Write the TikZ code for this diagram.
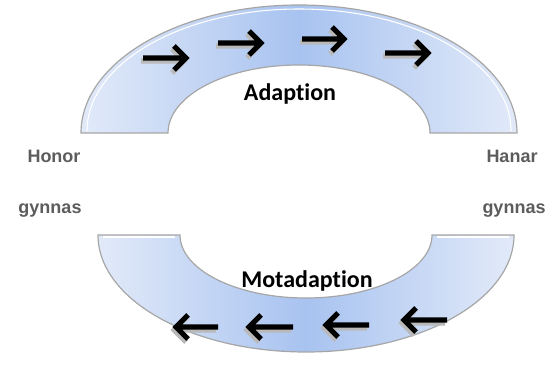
\documentclass[tikz,border=0pt]{standalone}
\usepackage{fontspec}
\setmainfont{Liberation Sans}
\newfontfamily\labelfont[Ligatures=NoCommon]{Carlito}
\usetikzlibrary{positioning}

\definecolor{ringmid}{HTML}{A8C3F0}
\definecolor{ringedge}{HTML}{E2EAF9}
\definecolor{sidegray}{HTML}{5C5C5C}

\begin{document}
\begin{tikzpicture}[x=0.75pt,y=0.75pt,
    ring/.style={draw=gray!70,line width=0.9pt,left color=ringedge,
                 right color=ringedge,middle color=ringmid},
    bevel/.style={draw=white,line width=0.8pt},
    flow/.style={line width=3.8pt,line join=miter},
    flowshadow/.style={flow,draw=gray!55},
    phase/.style={font=\labelfont\bfseries\fontsize{18}{20}\selectfont,anchor=base},
    side/.style={font=\bfseries\fontsize{13.5}{15}\selectfont,text=sidegray,anchor=base}]

        \useasboundingbox (0,0) rectangle (552,364);

        % upper ring
        \path[ring] (81,231) arc[start angle=180,end angle=0,x radius=218,y radius=128]
              -- (430,231) arc[start angle=0,end angle=180,x radius=131,y radius=68] -- cycle;
        \draw[bevel] (87,233) arc[start angle=180,end angle=0,x radius=212,y radius=122];

        % lower ring
        \path[ring] (98,129) arc[start angle=180,end angle=360,x radius=208,y radius=117]
              -- (432,129) arc[start angle=360,end angle=180,x radius=126,y radius=63] -- cycle;
        \draw[bevel] (103,127) -- (175,127);
        \draw[bevel] (437,127) -- (509,127);

        % arrows on the rings (start x / tip x / y / direction)
        \foreach \xa/\xb/\ya/\d in {143/186/306/1, 218/261/321/1, 302/344/325/1, 385/428/311/1,
                                    176/218/37/-1, 249/293/37/-1, 326/369/39/-1, 404/447/44/-1} {
            \ifnum\d>0
              \def\xs{\xa}\def\xt{\xb}
            \else
              \def\xs{\xb}\def\xt{\xa}
            \fi
            \draw[flowshadow] (\xs-2,\ya-3) -- (\xt-2,\ya-3)
                  (\xt-2-\d*12,\ya+9) -- (\xt-2,\ya-3) -- (\xt-2-\d*12,\ya-15);
            \draw[flow] (\xs,\ya) -- (\xt,\ya)
                  (\xt-\d*12,\ya+12) -- (\xt,\ya) -- (\xt-\d*12,\ya-12);
        }

        \node[phase] (adapt) at (290,263) {Adaption};
        \node[phase] (motadapt) at (307,77) {Motadaption};

        \node[side] (honor) at (54,201) {Honor};
        \node[side] (gynL) at (50,150) {gynnas};
        \node[side] (hanar) at (512,201) {Hanar};
        \node[side] (gynR) at (514,150) {gynnas};
\end{tikzpicture}
\end{document}
